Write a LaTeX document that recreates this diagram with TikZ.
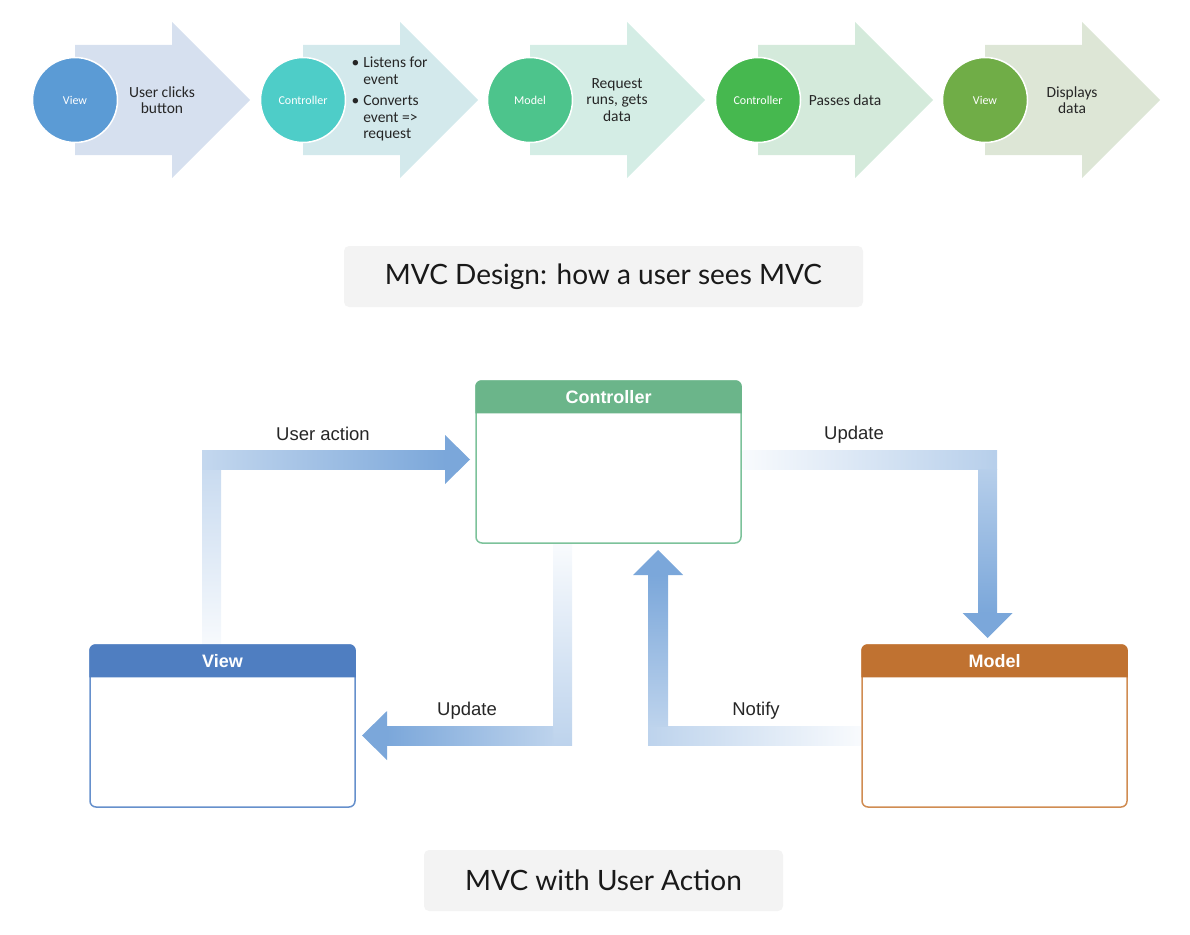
\documentclass[tikz,border=0pt]{standalone}
\usepackage{fontspec}
\setmainfont{Liberation Sans}
\newfontfamily\calibri{Carlito}
\newfontfamily\capfont{Lato}
\usepackage{tikz}
\usetikzlibrary{calc}
\definecolor{dotview}{RGB}{91,155,213}
\definecolor{dotctrl}{RGB}{78,205,200}
\definecolor{dotmodel}{RGB}{77,196,140}
\definecolor{dotpass}{RGB}{70,184,79}
\definecolor{dotshow}{RGB}{112,173,71}
\definecolor{chevview}{RGB}{214,224,239}
\definecolor{chevctrl}{RGB}{211,233,236}
\definecolor{chevmodel}{RGB}{212,237,229}
\definecolor{chevpass}{RGB}{212,234,219}
\definecolor{chevshow}{RGB}{221,230,214}
\definecolor{textgrey}{RGB}{38,38,38}
\definecolor{capgrey}{RGB}{243,243,243}
\definecolor{band}{RGB}{123,167,218}
\definecolor{ctrlhead}{RGB}{107,181,138}
\definecolor{ctrlline}{RGB}{124,194,154}
\definecolor{viewhead}{RGB}{79,126,193}
\definecolor{viewline}{RGB}{102,144,204}
\definecolor{modelhead}{RGB}{192,114,49}
\definecolor{modelline}{RGB}{208,140,82}

\begin{document}
\begin{tikzpicture}[x=1pt,y=-1pt,
  stepdot/.style={circle, minimum size=85pt, inner sep=0, draw=white,
                  line width=1.5pt, text=white,
                  font=\calibri\fontsize{12}{14}\selectfont},
  steptext/.style={align=center, text=textgrey,
                   font=\calibri\fontsize{15.5}{16.5}\selectfont},
  mvcbox/.style={draw, line width=1.5pt, rounded corners=6pt, fill=white,
                 minimum width=265pt, minimum height=162pt, inner sep=0},
  headtext/.style={text=white, font=\bfseries\fontsize{18}{20}\selectfont},
  bandtext/.style={text=black!85, font=\fontsize{18.5}{20}\selectfont},
  caption/.style={fill=capgrey, rounded corners=5pt, minimum height=61pt,
                  text=black!90, font=\capfont\fontsize{28}{32}\selectfont}
]
\useasboundingbox (0,0) rectangle (1190,934);

% how a user sees MVC
\fill[chevview] (75,45) -- (172,45) -- (172,22) -- (250,100) -- (172,178) -- (172,155) -- (75,155) -- cycle;
\fill[chevctrl] (303,45) -- (400,45) -- (400,22) -- (478,100) -- (400,178) -- (400,155) -- (303,155) -- cycle;
\fill[chevmodel] (530,45) -- (627,45) -- (627,22) -- (705,100) -- (627,178) -- (627,155) -- (530,155) -- cycle;
\fill[chevpass] (758,45) -- (855,45) -- (855,22) -- (933,100) -- (855,178) -- (855,155) -- (758,155) -- cycle;
\fill[chevshow] (985,45) -- (1082,45) -- (1082,22) -- (1160,100) -- (1082,178) -- (1082,155) -- (985,155) -- cycle;

\node[stepdot, fill=dotview] (dview) at (75,100) {View};
\node[stepdot, fill=dotctrl] (dctrl) at (303,100) {Controller};
\node[stepdot, fill=dotmodel] (dmodel) at (530,100) {Model};
\node[stepdot, fill=dotpass] (dpass) at (758,100) {Controller};
\node[stepdot, fill=dotshow] (dshow) at (985,100) {View};

\node[steptext] (tview) at (162,100) {User clicks\\button};
\node[steptext, anchor=west] (tctrl) at (348,100)
  {\begin{tabular}{@{}l@{\hspace{4pt}}l@{}}
   \textbullet & Listens for\\ & event\\[5pt]
   \textbullet & Converts\\ & event =>\\ & request
   \end{tabular}};
\node[steptext] (tmodel) at (617,100) {Request\\runs, gets\\data};
\node[steptext] (tpass) at (845,100) {Passes data};
\node[steptext] (tshow) at (1072,100) {Displays\\data};

\node[caption, minimum width=519pt] (capsteps) at (603.5,276.5) {MVC Design: how a user sees MVC};

% MVC with user action
\node[mvcbox, draw=ctrlline] (ctrl) at (608.5,462) {};
\node[mvcbox, draw=viewline] (view) at (222.5,726) {};
\node[mvcbox, draw=modelline] (model) at (994.5,726) {};
\fill[ctrlhead] ([yshift=-33pt]ctrl.north west) [rounded corners=6pt] -- (ctrl.north west)
  -- (ctrl.north east) [sharp corners] -- ([yshift=-33pt]ctrl.north east) -- cycle;
\fill[viewhead] ([yshift=-33pt]view.north west) [rounded corners=6pt] -- (view.north west)
  -- (view.north east) [sharp corners] -- ([yshift=-33pt]view.north east) -- cycle;
\fill[modelhead] ([yshift=-33pt]model.north west) [rounded corners=6pt] -- (model.north west)
  -- (model.north east) [sharp corners] -- ([yshift=-33pt]model.north east) -- cycle;
\node[headtext] (ctrlname) at ([yshift=-16.5pt]ctrl.north) {Controller};
\node[headtext] (viewname) at ([yshift=-16.5pt]view.north) {View};
\node[headtext] (modelname) at ([yshift=-16.5pt]model.north) {Model};

% user action
\coordinate (uaturn) at (211.5,459.5);
\coordinate (uatip) at (470,459.5);
\shade[bottom color=band!6, top color=band!45] ($(view.north -| uaturn)+(-9.5,-0.75)$) rectangle ($(uaturn)+(9.5,-9.5)$);
\shade[left color=band!45, right color=band] ($(uaturn)+(-9.5,-9.5)$) rectangle ($(uatip)+(-25,9.5)$);
\fill[band] (uatip) -- ++(-25,-24.5) -- ++(0,49) -- cycle;
\node[bandtext] (useraction) at (323,434) {User action};

% update, controller to model
\coordinate (urturn) at (987.5,459.5);
\coordinate (urtip) at (987.5,638);
\shade[left color=band!5, right color=band!55] ($(ctrl.east |- urturn)+(0.75,-9.5)$) rectangle ($(urturn)+(9.5,9.5)$);
\shade[top color=band!55, bottom color=band] ($(urturn)+(-9.5,9.5)$) rectangle ($(urtip)+(9.5,-25)$);
\fill[band] (urtip) -- ++(-25,-25) -- ++(50,0) -- cycle;
\node[bandtext] (updmodel) at (854,435) {Update};

% notify, model to controller
\coordinate (ntturn) at (658,735.5);
\coordinate (nttip) at (658,550);
\shade[left color=band!50, right color=band!5] ($(ntturn)+(-10,-9.5)$) rectangle ($(model.west |- ntturn)+(-0.75,9.5)$);
\shade[bottom color=band!50, top color=band] ($(ntturn)+(-10,-9.5)$) rectangle ($(nttip)+(10,25)$);
\fill[band] (nttip) -- ++(-25,25) -- ++(50,0) -- cycle;
\node[bandtext] (notify) at (756,711) {Notify};

% update, controller to view
\coordinate (ulturn) at (562.5,735.5);
\coordinate (ultip) at (362,735.5);
\shade[top color=band!5, bottom color=band!50] ($(ctrl.south -| ulturn)+(-9.5,0.75)$) rectangle ($(ulturn)+(9.5,9.5)$);
\shade[left color=band, right color=band!50] ($(ultip)+(25,-9.5)$) rectangle ($(ulturn)+(-9.5,9.5)$);
\fill[band] (ultip) -- ++(25,-24.5) -- ++(0,49) -- cycle;
\node[bandtext] (updview) at (467,711) {Update};

\node[caption, minimum width=359pt] (capmvc) at (603.5,880.5) {MVC with User Action};
\end{tikzpicture}
\end{document}
